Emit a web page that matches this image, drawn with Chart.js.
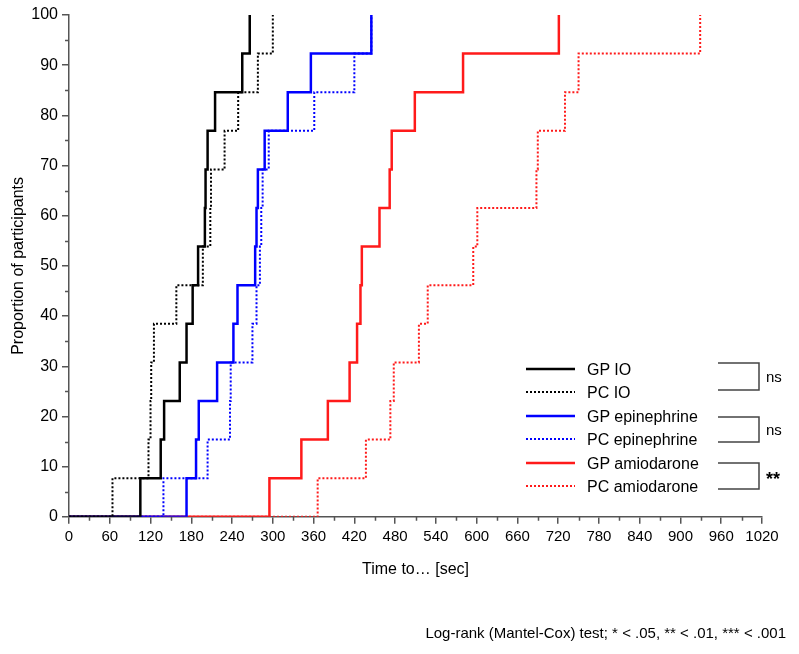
<!DOCTYPE html>
<html>
<head>
<meta charset="utf-8">
<script src="https://cdn.jsdelivr.net/npm/chart.js@4.4.1/dist/chart.umd.min.js"></script>
<style>
  html, body { margin: 0; padding: 0; background: #fff; }
  #wrap { position: relative; width: 799px; height: 654px; }
  #key { position: absolute; left: 0; top: 0; }
  #key text { font-family: "Liberation Sans", Arial, sans-serif; fill: #000; }
</style>
</head>
<body>
<div id="wrap">
  <canvas id="myChart" width="799" height="654"></canvas>
  <svg id="key" width="799" height="654"></svg>
</div>
<script>
// cumulative proportion after each event (13 participants per group)
const levels = [0, 7.69, 15.38, 23.08, 30.77, 38.46, 46.15, 53.85, 61.54, 69.23, 76.92, 84.62, 92.31, 100];

// event times in seconds
const gpIO = [0, 105, 135, 140, 163, 173, 182, 190, 200, 201, 204, 215, 255, 266];
const pcIO = [0, 64, 117, 120, 121, 125, 158, 197, 208, 209, 229, 249, 278, 300];
const gpEpinephrine = [0, 173, 187, 191, 218, 242, 248, 274, 276, 278, 288, 322, 356, 445];
const pcEpinephrine = [0, 139, 204, 237, 238, 270, 276, 281, 283, 285, 294, 361, 420, 445];
const gpAmiodarone = [0, 295, 342, 381, 413, 424, 429, 431, 457, 472, 475, 509, 580, 721];
const pcAmiodarone = [0, 366, 437, 473, 478, 515, 528, 595, 601, 688, 690, 730, 750, 929];

const seriesNames = ["GP IO", "PC IO", "GP epinephrine", "PC epinephrine", "GP amiodarone", "PC amiodarone"];
const seriesTimes = [gpIO, pcIO, gpEpinephrine, pcEpinephrine, gpAmiodarone, pcAmiodarone];
const pairResults = ["ns", "ns", "**"];
const footnote = "Log-rank (Mantel-Cox) test; * < .05, ** < .01, *** < .001";

const colors = ["#000000", "#000000", "#0000ff", "#0000ff", "#ff1a1a", "#ff1a1a"];
const FONT = "'Liberation Sans', Arial, sans-serif";
const axisGray = "#555555";

const datasets = seriesTimes.map((times, i) => {
    const dotted = i % 2 === 1;
    return {
        label: seriesNames[i],
        data: times.map((t, k) => ({ x: t, y: levels[k] })),
        stepped: "before",
        borderColor: colors[i],
        borderWidth: dotted ? 2 : 2.5,
        borderDash: dotted ? [2, 2] : [],
        pointRadius: 0,
        fill: false,
    };
});

// small unlabeled ticks between the labeled ones
const minorTicks = {
    id: "minorTicks",
    afterDraw(chart) {
        const { ctx, scales: { x, y } } = chart;
        ctx.save();
        ctx.strokeStyle = axisGray;
        ctx.lineWidth = 1.5;
        ctx.beginPath();
        for (let v = 30; v < 1020; v += 60) {
            const px = Math.round(x.getPixelForValue(v)) + 0.5;
            ctx.moveTo(px, x.top);
            ctx.lineTo(px, x.top + 4);
        }
        for (let v = 5; v < 100; v += 10) {
            const py = Math.round(y.getPixelForValue(v)) + 0.5;
            ctx.moveTo(y.right, py);
            ctx.lineTo(y.right - 4, py);
        }
        ctx.stroke();
        ctx.restore();
    },
};

const ctx = document.getElementById("myChart");

new Chart(ctx, {
    type: "line",
    data: { datasets: datasets },
    plugins: [minorTicks],
    options: {
        responsive: false,
        animation: false,
        layout: { padding: { left: 0, right: 37, top: 15, bottom: 75 } },
        plugins: {
            legend: { display: false },
            tooltip: { enabled: false },
        },
        scales: {
            x: {
                type: "linear",
                min: 0,
                max: 1020,
                border: { color: axisGray, width: 1.5 },
                grid: { drawOnChartArea: false, drawTicks: true, tickLength: 7, color: axisGray, lineWidth: 1.5 },
                ticks: {
                    stepSize: 60, maxRotation: 0, autoSkip: false, padding: 4, color: "#000",
                    font: { family: FONT, size: 15 },
                    callback: (v) => String(v),
                },
                title: { display: true, text: "Time to… [sec]", color: "#000", font: { family: FONT, size: 16 }, padding: { top: 10, bottom: 0 } },
            },
            y: {
                min: 0,
                max: 100,
                border: { color: axisGray, width: 1.5 },
                grid: { drawOnChartArea: false, drawTicks: true, tickLength: 7, color: axisGray, lineWidth: 1.5 },
                ticks: { stepSize: 10, padding: 4, color: "#000", font: { family: FONT, size: 16 } },
                title: { display: true, text: "Proportion of participants", color: "#000", font: { family: FONT, size: 16 }, padding: { top: 9, bottom: 0 } },
                afterFit: (scale) => { scale.width = 69; },
            },
        },
    },
});

// legend, significance brackets and footnote
const svg = document.getElementById("key");
const NS = "http://www.w3.org/2000/svg";
function add(tag, attrs, text) {
    const el = document.createElementNS(NS, tag);
    for (const k in attrs) el.setAttribute(k, attrs[k]);
    if (text) el.textContent = text;
    svg.appendChild(el);
    return el;
}

const rowY = [369, 392, 416, 439, 463, 486];
seriesNames.forEach((name, i) => {
    const dotted = i % 2 === 1;
    add("line", {
        x1: 526, x2: 575, y1: rowY[i], y2: rowY[i],
        stroke: colors[i],
        "stroke-width": dotted ? 2 : 2.5,
        "stroke-dasharray": dotted ? "2 2" : "none",
    });
    add("text", { x: 587, y: rowY[i] + 6, "font-size": 16 }, name);
});

const bracketY = [[363, 390], [417, 442], [463, 489]];
pairResults.forEach((res, j) => {
    const [y1, y2] = bracketY[j];
    add("polyline", {
        points: `718,${y1} 759,${y1} 759,${y2} 718,${y2}`,
        fill: "none", stroke: "#444", "stroke-width": 1.5,
    });
    const bold = res.indexOf("*") >= 0;
    add("text", {
        x: 766, y: (y1 + y2) / 2 + (bold ? 9 : 5),
        "font-size": bold ? 18 : 15,
        "font-weight": bold ? "bold" : "normal",
    }, res);
});

add("text", { x: 786, y: 638, "font-size": 15, "text-anchor": "end" }, footnote);
</script>
</body>
</html>
